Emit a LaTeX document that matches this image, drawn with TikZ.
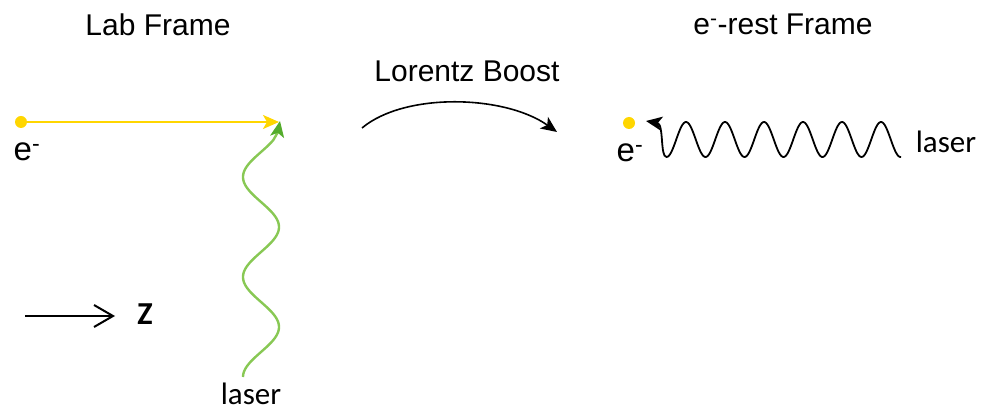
\documentclass[tikz,border=0pt]{standalone}
\usepackage{fontspec}
\setmainfont{Liberation Sans}
\newfontfamily\calib{Carlito}
\usetikzlibrary{arrows.meta}
\definecolor{eyellow}{RGB}{255,214,0}
\definecolor{lasergreen}{RGB}{136,200,84}
\definecolor{tipgreen}{RGB}{84,172,44}
\tikzset{
  title/.style={inner sep=0pt, font=\fontsize{30}{36}\selectfont},
  elabel/.style={inner sep=0pt, font=\fontsize{33}{36}\selectfont},
  laserlabel/.style={inner sep=0pt, font=\calib\fontsize{31}{36}\selectfont},
  electron/.style={circle, fill=eyellow, inner sep=0pt, minimum size=12pt},
  bigtip/.style={-{Stealth[length=16pt,width=14pt,inset=4pt]}},
}
\begin{document}
\begin{tikzpicture}[x=1pt,y=-1pt]
\useasboundingbox (0,0) rectangle (990,411);

% headings
\node[title] (lab)   at (158,25) {Lab Frame};
\node[title] (boost) at (467,71) {Lorentz Boost};
\node[title] (rest)  at (783,24) {e\textsuperscript{-}-rest Frame};

% ---- lab frame ----
\node[electron] (eL) at (21,122) {};
\node[elabel] (eLlab) at (27,152) {e\textsuperscript{-}};
\coordinate (hit) at (279,122);
\draw[eyellow, line width=2pt, bigtip] (eL.center) -- (hit);

% incoming laser photon, travelling upwards
\node[laserlabel] (laserL) at (251,394) {laser};
\coordinate (ltip) at (280,121);
\draw[lasergreen, line width=2.4pt, -{Stealth[length=16pt,width=14pt,inset=4pt,color=tipgreen]}]
  plot[variable=\t, domain=377:140, samples=160] ({261-18*cos(3.6*(377-\t))}, \t)
  .. controls (278,132) .. (ltip);

% z axis
\coordinate (z0) at (25,316);
\coordinate (z1) at (115,316);
\draw[line width=2pt, -{Straight Barb[length=19pt,width=22pt,line width=2pt]}] (z0) -- (z1);
\node[inner sep=0pt, font=\calib\bfseries\fontsize{32}{36}\selectfont] (zl) at (145,314) {Z};

% ---- boost arrow ----
\coordinate (b0) at (362,128);
\coordinate (b1) at (557,132);
\draw[line width=1.6pt, bigtip] (b0) .. controls (405,92) and (505,95) .. (b1);

% ---- rest frame ----
\node[electron] (eR) at (629,123) {};
\node[elabel] (eRlab) at (630,153) {e\textsuperscript{-}};
\node[laserlabel] (laserR) at (946,142) {laser};
\coordinate (rtip) at (646,121);
\draw[line width=1.8pt, bigtip]
  plot[domain=901:666.5, samples=220] (\x, {139.5-17.5*cos(9.230769*(\x-686))})
  .. controls (660,157) and (664,124) .. (rtip);
\end{tikzpicture}
\end{document}
